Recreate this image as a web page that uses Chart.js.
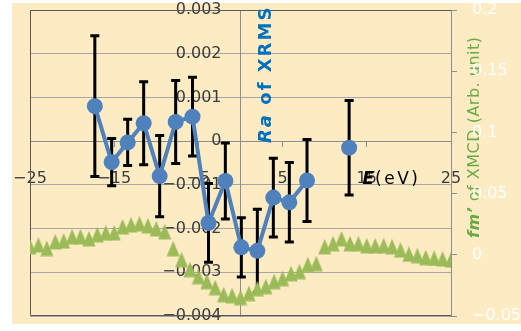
<!DOCTYPE html>
<html>
<head>
<meta charset="utf-8">
<script src="https://cdn.jsdelivr.net/npm/chart.js@4.4.1/dist/chart.umd.min.js"></script>
<style>
  html, body { margin: 0; padding: 0; background: #fff; }
  #wrap { width: 521px; height: 331px; }
</style>
</head>
<body>
<div id="wrap"><canvas id="xrmsChart" width="521" height="331"></canvas></div>
<script>
// Ra of XRMS (left axis) with error bars
const raEnergy = [-17.3, -15.3, -13.4, -11.5, -9.6, -7.7, -5.7, -3.8, -1.8, 0.1, 2.0, 3.9, 5.8, 7.9, 12.9];
const raValues = [0.0008, -0.00048, -0.00003, 0.00041, -0.0008, 0.00044, 0.00056, -0.00187, -0.00091, -0.00243, -0.00251, -0.00129, -0.0014, -0.0009, -0.00015];
const raErrors = [0.00161, 0.00054, 0.00053, 0.00095, 0.00093, 0.00095, 0.0009, 0.0009, 0.00087, 0.00068, 0.00095, 0.0009, 0.00091, 0.00094, 0.00108];
const raBreakBefore = 14; // last point is not joined to the line

// fm' of XMCD (right axis)
const fmEnergy = [-25, -24, -23, -22, -21, -20, -19, -18, -17, -16, -15, -14, -13, -12, -11, -10, -9, -8, -7, -6, -5, -4, -3, -2, -1,
                  0, 1, 2, 3, 4, 5, 6, 7, 8, 9, 10, 11, 12, 13, 14, 15, 16, 17, 18, 19, 20, 21, 22, 23, 24, 25];
const fmValues = [0.0065, 0.0079, 0.0051, 0.0106, 0.0112, 0.0146, 0.0146, 0.013, 0.0163, 0.0179, 0.0179, 0.0228, 0.0244, 0.0253, 0.0236, 0.0212, 0.0187,
                  0.0049, -0.0041, -0.0122, -0.0179, -0.022, -0.0269, -0.0326, -0.0334, -0.035, -0.0317, -0.0277, -0.026, -0.022, -0.0195,
                  -0.0155, -0.0138, -0.0081, -0.0073, 0.0065, 0.009, 0.013, 0.009, 0.009, 0.0073, 0.0073, 0.0073, 0.0065, 0.0038, 0.0003,
                  -0.0008, -0.0024, -0.003, -0.0035, -0.0043];

const energyTicks = [-25, -15, -5, 5, 15, 25];

const FONT = '"DejaVu Sans", sans-serif';
const fmt = v => String(+v.toFixed(4)).replace('-', '\u2212');

// tall triangle marker like the Excel one
const triMarker = document.createElement('canvas');
triMarker.width = 14;
triMarker.height = 16;
const tc = triMarker.getContext('2d');
tc.fillStyle = '#9BBB59';
tc.beginPath();
tc.moveTo(7, 0); tc.lineTo(13.5, 15.5); tc.lineTo(0.5, 15.5);
tc.closePath();
tc.fill();

const decor = {
  id: 'decor',
  beforeDraw(chart) {
    const ctx = chart.ctx, a = chart.chartArea;
    ctx.save();
    ctx.fillStyle = '#FDEBC3';
    ctx.fillRect(12, 3, chart.width - 12, 321);
    // right title sits under the white tick labels
    ctx.translate(a.right + 24, a.top + 228);
    ctx.rotate(-Math.PI / 2);
    ctx.fillStyle = '#6aab43';
    ctx.textBaseline = 'middle';
    ctx.letterSpacing = '0.5px';
    ctx.font = 'italic bold 16px ' + FONT;
    ctx.fillText('fm\u2019', 0, 0);
    const w = ctx.measureText('fm\u2019').width;
    ctx.font = '16px ' + FONT;
    ctx.fillText(' of XMCD (Arb. unit)', w, 0);
    ctx.restore();
  },
  beforeDatasetsDraw(chart) {
    const ctx = chart.ctx, a = chart.chartArea;
    const xs = chart.scales.x, ys = chart.scales.y;
    ctx.save();
    ctx.strokeStyle = '#5a5a5a';
    ctx.lineWidth = 1;
    ctx.beginPath();
    ctx.moveTo(a.right, a.top + 0.5);
    ctx.lineTo(a.left + 0.5, a.top + 0.5);
    ctx.lineTo(a.left + 0.5, a.bottom - 0.5);
    ctx.lineTo(a.right, a.bottom - 0.5);
    ctx.stroke();
    // error bars
    ctx.strokeStyle = '#000';
    ctx.lineWidth = 3;
    raEnergy.forEach((e, i) => {
      const x = xs.getPixelForValue(e);
      const top = ys.getPixelForValue(raValues[i] + raErrors[i]);
      const bot = ys.getPixelForValue(raValues[i] - raErrors[i]);
      ctx.beginPath();
      ctx.moveTo(x, top); ctx.lineTo(x, bot);
      ctx.moveTo(x - 4.5, top); ctx.lineTo(x + 4.5, top);
      ctx.moveTo(x - 4.5, bot); ctx.lineTo(x + 4.5, bot);
      ctx.stroke();
    });
    ctx.restore();
  },
  afterDraw(chart) {
    const ctx = chart.ctx, a = chart.chartArea;
    const x0 = chart.scales.x.getPixelForValue(0);
    const y0 = chart.scales.y.getPixelForValue(0);
    ctx.save();
    // left title
    ctx.translate(x0 + 26, a.top + 133);
    ctx.rotate(-Math.PI / 2);
    ctx.fillStyle = '#0070C0';
    ctx.textBaseline = 'middle';
    ctx.letterSpacing = '2px';
    ctx.font = 'italic bold 18px ' + FONT;
    ctx.fillText('Ra', 0, 0);
    const w = ctx.measureText('Ra').width;
    ctx.font = 'bold 18px ' + FONT;
    ctx.fillText(' of XRMS', w, 0);
    ctx.restore();
    // x title
    ctx.save();
    ctx.fillStyle = '#000';
    ctx.textBaseline = 'middle';
    ctx.font = 'italic bold 17px ' + FONT;
    ctx.fillText('E', x0 + 122, y0 + 38);
    const we = ctx.measureText('E').width;
    ctx.font = '17px ' + FONT;
    ctx.letterSpacing = '2.5px';
    ctx.fillText('(eV)', x0 + 122 + we + 1, y0 + 38);
    ctx.restore();
  }
};

const ctx = document.getElementById('xrmsChart').getContext('2d');
const chart = new Chart(ctx, {
  type: 'line',
  data: {
    datasets: [
      {
        label: 'Ra',
        data: raEnergy.map((e, i) => ({ x: e, y: raValues[i] })),
        yAxisID: 'y',
        borderColor: '#4F81BD',
        backgroundColor: '#4F81BD',
        borderWidth: 4,
        pointRadius: 8,
        pointBorderWidth: 0,
        pointBackgroundColor: '#4F81BD',
        segment: { borderColor: c => c.p1DataIndex === raBreakBefore ? 'rgba(0,0,0,0)' : undefined }
      },
      {
        label: "fm'",
        data: fmEnergy.map((e, i) => ({ x: e, y: fmValues[i] })),
        yAxisID: 'y2',
        showLine: false,
        pointStyle: triMarker,
        pointRadius: 8,
        pointBorderWidth: 0,
        pointBackgroundColor: '#9BBB59',
        borderColor: '#9BBB59'
      }
    ]
  },
  options: {
    responsive: false,
    animation: false,
    layout: { padding: { left: 30, top: 10, right: 0, bottom: 15 } },
    plugins: { legend: { display: false }, tooltip: { enabled: false } },
    scales: {
      x: {
        type: 'linear',
        position: { y: 0 },
        min: -25, max: 25,
        afterBuildTicks: axis => { axis.ticks = energyTicks.map(v => ({ value: v })); },
        afterFit: s => { s.paddingLeft = 0; s.paddingRight = 0; },
        grid: { drawOnChartArea: false, tickLength: 5, color: '#8c8c8c' },
        border: { color: '#8c8c8c' },
        ticks: { autoSkip: false, maxRotation: 0, padding: 23, color: '#3a3a3a', font: { family: FONT, size: 16 }, callback: fmt }
      },
      y: {
        type: 'linear',
        position: 'center',
        min: -0.004, max: 0.003,
        afterFit: s => { s.paddingTop = 0; s.paddingBottom = 0; },
        grid: { color: '#a6a6a6', tickLength: 5 },
        border: { color: '#8c8c8c' },
        ticks: { stepSize: 0.001, padding: 14, color: '#3a3a3a', font: { family: FONT, size: 16 }, callback: fmt }
      },
      y2: {
        type: 'linear',
        position: 'right',
        min: -0.05, max: 0.2,
        afterFit: s => { s.width = 70; s.paddingTop = 0; s.paddingBottom = 0; },
        grid: { drawOnChartArea: false, tickLength: 6, color: '#8c8c8c' },
        border: { color: '#8c8c8c' },
        ticks: { stepSize: 0.05, padding: 15, color: '#ffffff', font: { family: FONT, size: 16 }, callback: fmt }
      }
    }
  },
  plugins: [decor]
});
</script>
</body>
</html>
